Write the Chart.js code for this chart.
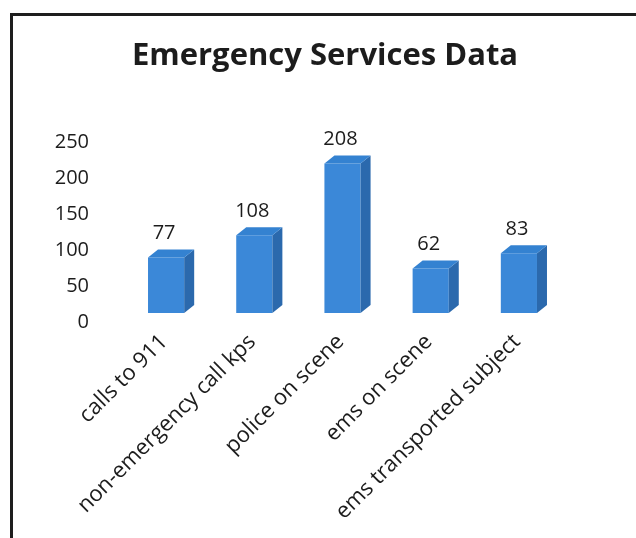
<!DOCTYPE html>
<html><head><meta charset="utf-8">
<script src="https://cdn.jsdelivr.net/npm/chart.js@4.4.1/dist/chart.umd.min.js"></script>
<style>
html,body{margin:0;padding:0;background:#fff;}
#wrap{position:relative;width:636px;height:538px;overflow:hidden;background:#fff;}
#frame{position:absolute;left:10px;top:13px;width:700px;height:600px;border:3px solid #1e1e1e;box-sizing:border-box;}
canvas{position:absolute;left:0;top:0;}
</style></head><body>
<div id="wrap"><div id="frame"></div><canvas id="c" width="636" height="538"></canvas></div>
<script>
const chartTitle = 'Emergency Services Data';
const categories = ['calls to 911', 'non-emergency call kps', 'police on scene', 'ems on scene', 'ems transported subject'];
const values = [77, 108, 208, 62, 83];
const yMin = 0, yMax = 250, yStep = 50;

const FRONT = '#3b88d8', TOP = '#3482d1', SIDE = '#2b69ad', TXT = '#1c1c1c';
const FONT = '"Open Sans", Lato, sans-serif';

const bar3d = {
  id: 'bar3d',
  afterLayout(chart) {
    if (chart.titleBlock) { chart.titleBlock.left = 14; chart.titleBlock.right = 636; }
  },
  afterDatasetsDraw(chart) {
    const ctx = chart.ctx;
    const meta = chart.getDatasetMeta(0);
    const dx = 10, dy = 8;
    ctx.save();
    meta.data.forEach((bar, i) => {
      const p = bar.getProps(['x', 'y', 'base', 'width'], true);
      const l = p.x - p.width / 2, r = p.x + p.width / 2;
      ctx.fillStyle = SIDE;
      ctx.beginPath();
      ctx.moveTo(r, p.y); ctx.lineTo(r + dx, p.y - dy); ctx.lineTo(r + dx, p.base - dy); ctx.lineTo(r, p.base);
      ctx.closePath(); ctx.fill();
      ctx.fillStyle = TOP;
      ctx.beginPath();
      ctx.moveTo(l, p.y); ctx.lineTo(l + dx, p.y - dy); ctx.lineTo(r + dx, p.y - dy); ctx.lineTo(r, p.y);
      ctx.closePath(); ctx.fill();
      ctx.fillStyle = TXT;
      ctx.font = '20px ' + FONT;
      ctx.textAlign = 'center';
      ctx.textBaseline = 'middle';
      ctx.fillText(String(values[i]), p.x - 2, p.y - 24);
    });
    ctx.restore();
  }
};

new Chart(document.getElementById('c'), {
  type: 'bar',
  data: {
    labels: categories,
    datasets: [{ data: values, backgroundColor: FRONT, borderWidth: 0, barPercentage: 0.41, categoryPercentage: 1 }]
  },
  options: {
    responsive: false,
    animation: false,
    layout: { padding: { left: 0, right: 73, top: 0, bottom: 0 } },
    plugins: {
      legend: { display: false },
      tooltip: { enabled: false },
      title: {
        display: true, text: chartTitle, color: TXT,
        font: { family: FONT, size: 31, weight: 'bold', lineHeight: 1.2 },
        padding: { top: 38, bottom: 58 }
      }
    },
    scales: {
      x: {
        grid: { display: false, drawTicks: false },
        border: { display: false },
        ticks: { color: TXT, font: { family: FONT, size: 22 }, minRotation: 45, maxRotation: 45, padding: 16, labelOffset: -2, autoSkip: false },
        afterFit(s) { s.height = 225; }
      },
      y: {
        min: yMin, max: yMax,
        grid: { display: false, drawTicks: false },
        border: { display: false },
        ticks: { stepSize: yStep, color: TXT, font: { family: FONT, size: 20 }, padding: 33, labelOffset: 9 },
        afterFit(s) { s.width = 122; }
      }
    }
  },
  plugins: [bar3d]
});
</script>
</body></html>
